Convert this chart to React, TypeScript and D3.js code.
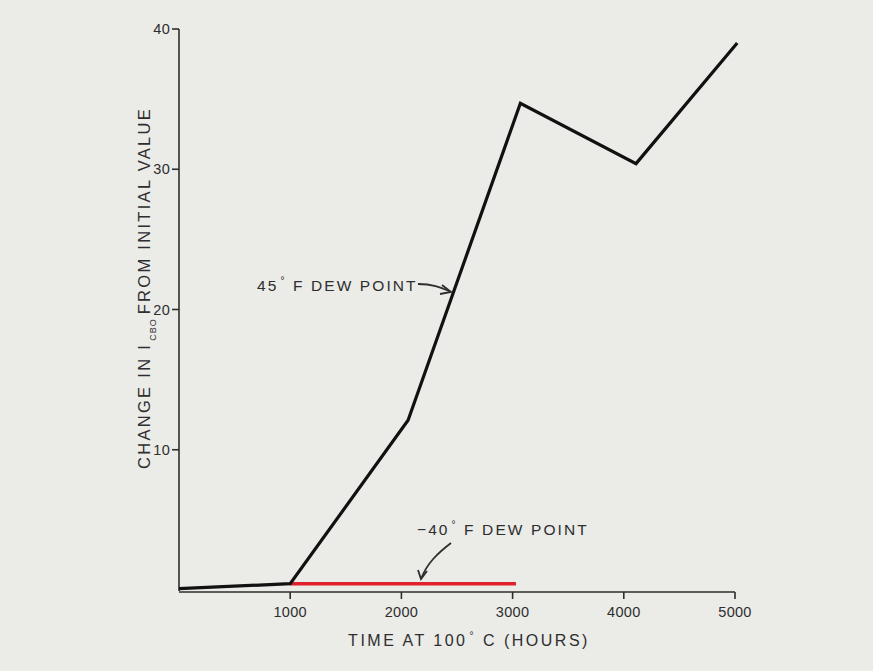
import React, { useEffect } from "react";
import * as d3 from "d3";

const hours45 = [0, 1000, 2060, 3070, 4110, 5020];
const change45 = [0.1, 0.45, 12.1, 34.7, 30.4, 39.0];
const hoursMinus40 = [1000, 3030];
const changeMinus40 = [0.45, 0.45];
const xTicks = [1000, 2000, 3000, 4000, 5000];
const yTicks = [10, 20, 30, 40];

const W = 873;
const H = 671;
const FONT = "'Liberation Sans', Arial, sans-serif";
const INK = "#2e2e2e";

export default function App() {
  useEffect(() => {
    document.body.style.margin = "0";
    document.body.style.background = "#ebebe8";
  }, []);

  const x = d3.scaleLinear().domain([0, 5000]).range([179, 735]);
  const y = d3.scaleLinear().domain([0, 40]).range([590, 29]);

  const line = d3
    .line<[number, number]>()
    .x((d) => x(d[0]))
    .y((d) => y(d[1]));

  const data45: [number, number][] = hours45.map((h, i) => [h, change45[i]]);
  const dataM40: [number, number][] = hoursMinus40.map((h, i) => [h, changeMinus40[i]]);

  const deg = (
    <tspan fontSize={10} dy={-7} dx={2}>°</tspan>
  );

  return (
    <svg width={W} height={H} style={{ display: "block", background: "#ebebe8" }}>
      <rect x={0} y={0} width={W} height={H} fill="#ebebe8" />
      {/* axes */}
      <line x1={x(0)} x2={x(0)} y1={y(40)} y2={y(0) + 1} stroke={INK} strokeWidth={1.6} />
      <line x1={x(0)} x2={x(5000)} y1={y(0) + 2} y2={y(0) + 2} stroke={INK} strokeWidth={1.6} />
      {yTicks.map((t) => (
        <g key={"y" + t}>
          <line x1={x(0) - 7} x2={x(0)} y1={y(t)} y2={y(t)} stroke={INK} strokeWidth={1.6} />
          <text
            x={x(0) - 9}
            y={y(t) + 5}
            textAnchor="end"
            fontFamily={FONT}
            fontSize={14.5}
            letterSpacing={0.3}
            fill={INK}
          >
            {t}
          </text>
        </g>
      ))}
      {xTicks.map((t) => (
        <g key={"x" + t}>
          <line x1={x(t)} x2={x(t)} y1={y(0) + 2} y2={y(0) + 9} stroke={INK} strokeWidth={1.6} />
          <text
            x={x(t)}
            y={y(0) + 27}
            textAnchor="middle"
            fontFamily={FONT}
            fontSize={14.5}
            letterSpacing={0.3}
            fill={INK}
          >
            {t}
          </text>
        </g>
      ))}
      {/* axis titles */}
      <text
        x={469}
        y={646}
        textAnchor="middle"
        fontFamily={FONT}
        fontSize={16}
        letterSpacing={2.5}
        fill={INK}
      >
        TIME AT 100
        {deg}
        <tspan dy={7}> C (HOURS)</tspan>
      </text>
      <text
        transform={`translate(150, 288) rotate(-90)`}
        textAnchor="middle"
        fontFamily={FONT}
        fontSize={16.5}
        letterSpacing={2.3}
        fill={INK}
      >
        CHANGE IN I
        <tspan fontSize={9} letterSpacing={1} dy={6} dx={2}>CBO</tspan>
        <tspan dy={-6} dx={4}>FROM INITIAL VALUE</tspan>
      </text>
      {/* data lines */}
      <path d={line(dataM40) || ""} fill="none" stroke="#e0202a" strokeWidth={3.5} />
      <path
        d={line(data45) || ""}
        fill="none"
        stroke="#111"
        strokeWidth={3.2}
        strokeLinejoin="miter"
      />
      {/* annotations */}
      <text x={257} y={291} fontFamily={FONT} fontSize={15.5} letterSpacing={2.1} fill={INK}>
        45
        {deg}
        <tspan dy={7}> F  DEW POINT</tspan>
      </text>
      <path d="M418,284 C432,284 440,287 451,292" fill="none" stroke={INK} strokeWidth={1.8} />
      <path d="M442,285 L451,292 L440,294" fill="none" stroke={INK} strokeWidth={1.8} />
      <text x={417} y={535} fontFamily={FONT} fontSize={15.5} letterSpacing={2.1} fill={INK}>
        −40
        {deg}
        <tspan dy={7}> F  DEW POINT</tspan>
      </text>
      <path d="M451,543 C438,553 427,563 421,579" fill="none" stroke={INK} strokeWidth={1.8} />
      <path d="M418,570 L421,579 L427,571" fill="none" stroke={INK} strokeWidth={1.8} />
    </svg>
  );
}
